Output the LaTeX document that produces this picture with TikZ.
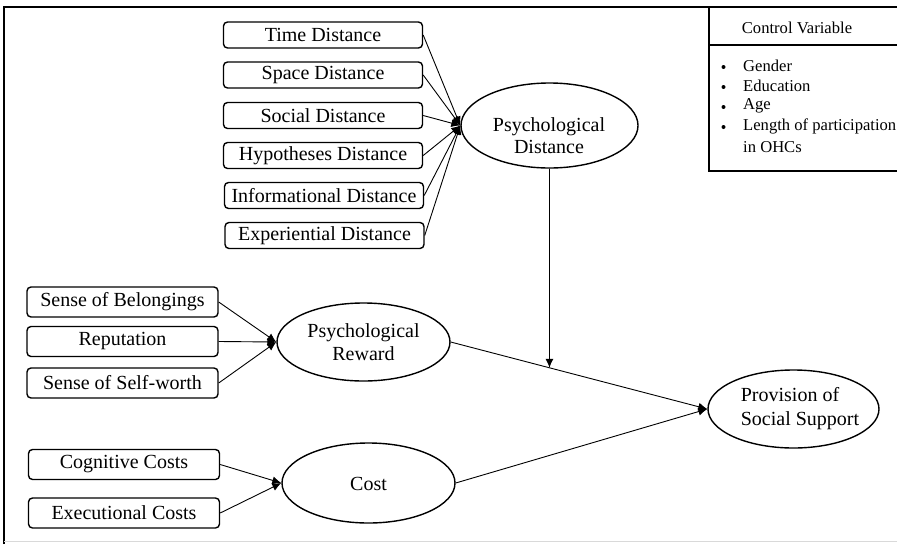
\documentclass[tikz,border=0pt]{standalone}
\usepackage{fontspec}
\setmainfont{Liberation Serif}
\usetikzlibrary{shapes.geometric,arrows.meta,calc}

\begin{document}
\begin{tikzpicture}[x=1pt,y=-1pt,
  ind/.style={draw,rounded corners=4pt,line width=1.4pt,inner sep=0pt,
    minimum width=199pt,minimum height=26pt,font=\fontsize{20}{22}\selectfont},
  latent/.style={draw,ellipse,line width=1.4pt,inner sep=0pt},
  lbl/.style={align=center,inner sep=0pt,font=\fontsize{20}{23}\selectfont},
  link/.style={line width=0.9pt,-{Latex[length=9pt,width=8pt]}},
  ctl/.style={anchor=west,inner sep=0pt,font=\fontsize{16.6}{18}\selectfont},
  dot/.style={circle,fill,inner sep=0pt,minimum size=4pt}]
\useasboundingbox (0,0) rectangle (897,544);

% outer frame
\draw[line width=1.3pt] (4,544) -- (4,7) -- (897,7);
\draw[black!15,line width=1pt] (4,541.5) -- (897,541.5);

% control variable panel
\draw[line width=1.1pt] (709,7) -- (709,171) -- (897,171);
\draw[line width=1.1pt] (709,45) -- (897,45);
\node[inner sep=0pt,font=\fontsize{16.6}{18}\selectfont] (cvt) at (797,28) {Control Variable};
\foreach \y/\t [count=\i] in {66/Gender,86/Education,106/Age,126/Length of participation,147/in OHCs}{
  \node[ctl] (cv\i) at (743,\y) {\t};
}
\foreach \y [count=\i] in {66,86,106,126}{
  \node[dot] (b\i) at (723.5,\y+1) {};
}

% psychological distance
\node[latent,minimum width=177pt,minimum height=85pt] (pd) at (549.5,125.5) {};
\node[lbl,font=\fontsize{20}{22}\selectfont] (pdt) at (549,136) {Psychological\\Distance};
\node[ind] (d1) at (323,35) {Time Distance};
\node[ind] (d2) at (323,75) {Space Distance};
\node[ind] (d3) at (323,115.5) {Social Distance};
\node[ind] (d4) at (323,155.5) {Hypotheses Distance};
\node[ind] (d5) at (324,195.5) {Informational Distance};
\node[ind] (d6) at (324.5,235.5) {Experiential Distance};
\foreach \i in {1,...,6}{ \draw[link] (d\i.east) -- (pd.west); }

% psychological reward
\node[latent,minimum width=173pt,minimum height=78pt] (pr) at (363.5,342) {};
\node[lbl] (prt) at (363.5,342) {Psychological\\Reward};
\node[ind,minimum width=191pt,minimum height=30pt] (r1) at (122.5,302) {Sense of Belongings};
\node[ind,minimum width=191pt,minimum height=30pt] (r2) at (122.5,341.5) {Reputation};
\node[ind,minimum width=191pt,minimum height=30pt] (r3) at (122.5,383) {Sense of Self-worth};
\foreach \i in {1,2,3}{ \draw[link] (r\i.east) -- (pr.west); }

% cost
\node[latent,minimum width=173pt,minimum height=80pt] (co) at (368.5,483) {};
\node[lbl] (cot) at (368.5,484) {Cost};
\node[ind,minimum width=191pt,minimum height=30pt] (c1) at (124,464.5) {Cognitive Costs};
\node[ind,minimum width=191pt,minimum height=30pt] (c2) at (124,513) {Executional Costs};
\foreach \i in {1,2}{ \draw[link] (c\i.east) -- (co.west); }

% outcome
\node[latent,minimum width=171pt,minimum height=78pt] (ps) at (793.5,409) {};
\node[lbl,align=left,font=\fontsize{20}{24}\selectfont] (pst) at (800,409) {Provision of\\Social Support};

% structural paths
\draw[link] (pr.east) -- (ps.west);
\draw[link] (co.east) -- (ps.west);

% moderating path onto the reward path
\coordinate (pdb) at ([yshift=-300pt]pd.south);
\coordinate (mod) at (intersection of pd.south--pdb and pr.east--ps.west);
\draw[link] (pd.south) -- (mod);
\end{tikzpicture}
\end{document}
